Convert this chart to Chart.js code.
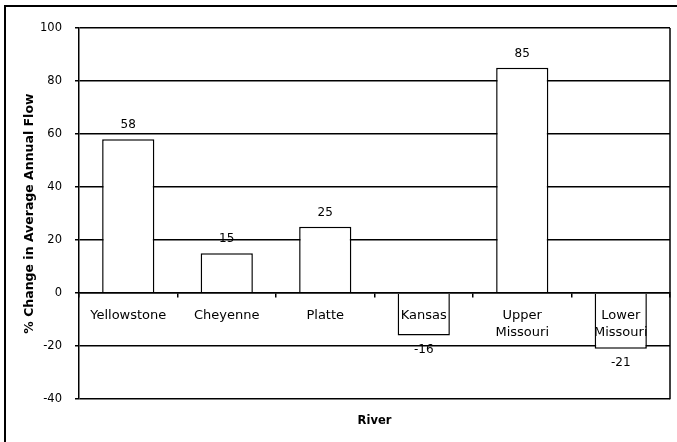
<!DOCTYPE html>
<html>
<head>
<meta charset="utf-8">
<script src="https://cdn.jsdelivr.net/npm/chart.js@4"></script>
<style>
  html, body { margin: 0; padding: 0; background: #fff; overflow: hidden; }
  #wrap { position: relative; width: 677px; height: 442px; }
  #marco { position: absolute; left: 4px; top: 5px; width: 700px; height: 460px;
           border-left: 2px solid #000; border-top: 2px solid #000; }
  canvas { position: absolute; left: 0; top: 0; }
</style>
</head>
<body>
<div id="wrap">
  <div id="marco"></div>
  <canvas id="myChart" width="677" height="442"></canvas>
</div>
<script>
//DATOS
const rios=["Yellowstone","Cheyenne","Platte","Kansas",["Upper","Missouri"],["Lower","Missouri"]]
const cambio=[58,15,25,-16,85,-21]
const yMin=-40
const yMax=100
const yPaso=20

const fuente="DejaVu Sans"

//PLUGINS
//etiquetas de valor sobre/bajo cada barra
const etiquetas={
    id:"etiquetas",
    afterDatasetsDraw(chart){
        const ctx=chart.ctx
        const meta=chart.getDatasetMeta(0)
        ctx.save()
        ctx.font="12px '"+fuente+"'"
        ctx.fillStyle="#000"
        ctx.textAlign="center"
        ctx.textBaseline="middle"
        meta.data.forEach((barra,i)=>{
            const v=cambio[i]
            const y=v>=0 ? barra.y-14 : barra.y+14
            ctx.fillText(String(v),barra.x,y)
        })
        ctx.restore()
    }
}

//borde derecho del area de grafica
const bordeDerecho={
    id:"bordeDerecho",
    afterDraw(chart){
        const {ctx,chartArea}=chart
        ctx.save()
        ctx.strokeStyle="#000"
        ctx.lineWidth=1.5
        ctx.beginPath()
        ctx.moveTo(chartArea.right,chartArea.top)
        ctx.lineTo(chartArea.right,chartArea.bottom)
        ctx.stroke()
        ctx.restore()
    }
}

//GRAFICA
const myChart=document.querySelector("#myChart")

const config={
    type:"bar",
    data:{
        labels:rios,
        datasets:[
            {
                data:cambio,
                backgroundColor:"#fff",
                borderColor:"#000",
                borderWidth:1.5,
                categoryPercentage:1,
                barPercentage:0.53
            }
        ]
    },
    options:{
        responsive:false,
        animation:false,
        layout:{padding:{left:6,top:28,right:7,bottom:14}},
        plugins:{legend:{display:false},tooltip:{enabled:false}},
        scales:{
            x:{
                position:{y:0},
                offset:true,
                grid:{drawOnChartArea:false,drawTicks:true,tickLength:4,color:"#000",lineWidth:1.5,offset:true,z:1},
                border:{display:true,color:"#000",width:1.5,z:1},
                ticks:{z:1,color:"#000",font:{family:fuente,size:13,lineHeight:1.3},padding:10,maxRotation:0,autoSkip:false}
            },
            x2:{
                position:"bottom",
                type:"category",
                labels:rios,
                grid:{display:false,drawTicks:false},
                border:{display:false},
                ticks:{display:false},
                title:{display:true,text:"River",color:"#000",font:{family:fuente,size:11.5,weight:"bold"},padding:{top:15,bottom:0}}
            },
            y:{
                min:yMin,
                max:yMax,
                afterFit(s){ s.width=73 },
                grid:{color:"#000",lineWidth:1.5,tickLength:4},
                border:{color:"#000",width:1.5},
                ticks:{stepSize:yPaso,color:"#000",font:{family:fuente,size:11.5},padding:13},
                title:{display:true,text:"% Change in Average Annual Flow",color:"#000",font:{family:fuente,size:12.5,weight:"bold"},padding:{top:16,bottom:4}}
            }
        }
    },
    plugins:[etiquetas,bordeDerecho]
}

myChart.chart=new Chart(myChart,config)
</script>
</body>
</html>
